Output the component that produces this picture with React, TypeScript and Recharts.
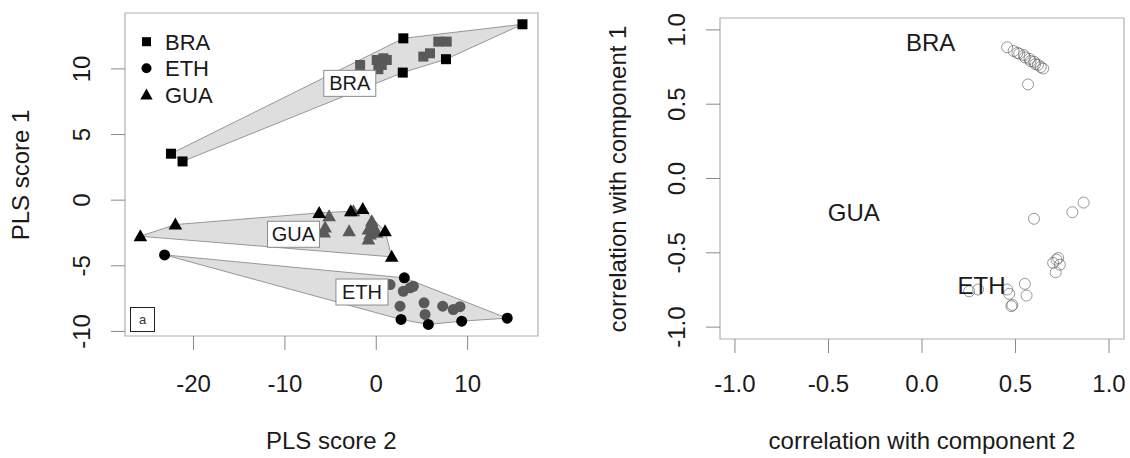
import React from 'react';
import { ScatterChart, Scatter, XAxis, YAxis, ReferenceArea } from 'recharts';

type Pt = { x: number; y: number };
type Tag = { x: number; y: number; label: string };

// panel a: PLS scores. hull = outer points (black), inner = grey points
const braHull: Pt[] = [
  { x: 16.0, y: 13.4 }, { x: 2.96, y: 12.33 }, { x: -22.47, y: 3.54 },
  { x: -21.2, y: 2.95 }, { x: 2.9, y: 9.72 }, { x: 7.63, y: 10.74 },
];
const braInner: Pt[] = [
  { x: -1.77, y: 10.3 }, { x: 0.05, y: 10.68 }, { x: 0.78, y: 10.81 }, { x: 1.15, y: 10.68 },
  { x: 0.6, y: 10.3 }, { x: 0.23, y: 9.98 }, { x: 6.79, y: 12.08 }, { x: 7.71, y: 12.08 },
  { x: 5.15, y: 10.94 }, { x: 5.88, y: 11.19 },
];
const guaHull: Pt[] = [
  { x: -25.82, y: -2.75 }, { x: -21.99, y: -1.86 }, { x: -6.25, y: -0.97 },
  { x: -2.79, y: -0.85 }, { x: -1.48, y: -0.67 }, { x: 0.96, y: -2.37 }, { x: 1.69, y: -4.32 },
];
const guaInner: Pt[] = [
  { x: -5.16, y: -1.23 }, { x: -5.6, y: -2.09 }, { x: -5.71, y: -2.47 }, { x: -2.97, y: -2.37 },
  { x: -2.5, y: -0.85 }, { x: -0.49, y: -1.61 }, { x: -0.32, y: -1.99 }, { x: -0.86, y: -2.24 },
  { x: -0.68, y: -2.62 }, { x: -0.86, y: -3.0 }, { x: 0.05, y: -2.49 },
];
const ethHull: Pt[] = [
  { x: -23.17, y: -4.17 }, { x: 3.07, y: -5.92 }, { x: 14.33, y: -8.99 },
  { x: 9.35, y: -9.22 }, { x: 5.7, y: -9.47 }, { x: 2.71, y: -9.09 },
];
const ethInner: Pt[] = [
  { x: 1.51, y: -6.43 }, { x: 2.96, y: -6.94 }, { x: 3.7, y: -6.68 }, { x: 4.06, y: -6.56 },
  { x: 2.6, y: -8.08 }, { x: 5.23, y: -7.82 }, { x: 5.34, y: -8.71 }, { x: 7.27, y: -8.08 },
  { x: 8.43, y: -8.33 }, { x: 9.16, y: -8.12 },
];
const scoreTags: Tag[] = [
  { x: -2.9, y: 8.9, label: 'BRA' },
  { x: -9.06, y: -2.6, label: 'GUA' },
  { x: -1.57, y: -7.0, label: 'ETH' },
];
const scoreXTicks = [-20, -10, 0, 10];
const scoreYTicks = [-10, -5, 0, 5, 10];
const legendGroups = ['BRA', 'ETH', 'GUA'];

// panel b: correlations with components
const corBRA: Pt[] = [
  { x: 0.455, y: 0.883 }, { x: 0.49, y: 0.858 }, { x: 0.51, y: 0.845 }, { x: 0.52, y: 0.84 },
  { x: 0.545, y: 0.83 }, { x: 0.55, y: 0.815 }, { x: 0.575, y: 0.805 }, { x: 0.58, y: 0.79 },
  { x: 0.6, y: 0.785 }, { x: 0.605, y: 0.77 }, { x: 0.62, y: 0.765 }, { x: 0.635, y: 0.75 },
  { x: 0.648, y: 0.74 }, { x: 0.567, y: 0.633 },
];
const corGUA: Pt[] = [
  { x: 0.599, y: -0.271 }, { x: 0.804, y: -0.227 }, { x: 0.864, y: -0.162 },
  { x: 0.719, y: -0.546 }, { x: 0.701, y: -0.568 }, { x: 0.737, y: -0.58 },
  { x: 0.715, y: -0.631 }, { x: 0.728, y: -0.535 },
];
const corETH: Pt[] = [
  { x: 0.252, y: -0.759 }, { x: 0.3, y: -0.747 }, { x: 0.455, y: -0.747 }, { x: 0.466, y: -0.776 },
  { x: 0.478, y: -0.859 }, { x: 0.483, y: -0.851 }, { x: 0.55, y: -0.709 }, { x: 0.559, y: -0.788 },
];
const corTags: Tag[] = [
  { x: 0.046, y: 0.913, label: 'BRA' },
  { x: -0.365, y: -0.225, label: 'GUA' },
  { x: 0.318, y: -0.719, label: 'ETH' },
];
const corTicks = [-1, -0.5, 0, 0.5, 1];

const font = '"Liberation Sans", Arial, sans-serif';
const ink = '#1a1a1a';
const boxStroke = '#b0b0b0';
const tickStroke = '#8a8a8a';

const square = (fill: string) => (p: any) => (
  <rect x={p.cx - 5} y={p.cy - 5} width={10} height={10} fill={fill} />
);
const disc = (fill: string) => (p: any) => <circle cx={p.cx} cy={p.cy} r={5.5} fill={fill} />;
const tri = (fill: string) => (p: any) => (
  <polygon
    points={`${p.cx},${p.cy - 7} ${p.cx - 6.8},${p.cy + 5} ${p.cx + 6.8},${p.cy + 5}`}
    fill={fill}
  />
);
const ring = (p: any) => (
  <circle cx={p.cx} cy={p.cy} r={5.5} fill="none" stroke="#555" strokeOpacity={0.6} strokeWidth={1} />
);
const nothing = () => <g />;
const hullLine = (lp: any) => (
  <polygon
    points={lp.points.map((q: any) => `${q.x},${q.y}`).join(' ')}
    fill="#dedede"
    stroke="#8c8c8c"
    strokeWidth={0.9}
  />
);
const boxedTag = (p: any) => (
  <g>
    <rect x={p.cx - 26} y={p.cy - 13} width={52} height={26} fill="#fff" stroke="#8c8c8c" strokeWidth={1} />
    <text x={p.cx} y={p.cy + 7} textAnchor="middle" fontSize={20} fontFamily={font} fill={ink}>
      {p.payload.label}
    </text>
  </g>
);
const plainTag = (p: any) => (
  <text x={p.cx} y={p.cy + 8.6} textAnchor="middle" fontSize={24} fontFamily={font} fill={ink}>
    {p.payload.label}
  </text>
);

const xTick = (dy: number, fmt: (v: number) => string) => (p: any) => (
  <text x={p.x} y={p.y + dy} textAnchor="middle" fontSize={24} fontFamily={font} fill={ink}>
    {fmt(p.payload.value)}
  </text>
);
const yTick = (fmt: (v: number) => string) => (p: any) => {
  const bx = p.x - 19;
  return (
    <text
      x={bx}
      y={p.y}
      transform={`rotate(-90 ${bx} ${p.y})`}
      textAnchor="middle"
      fontSize={24}
      fontFamily={font}
      fill={ink}
    >
      {fmt(p.payload.value)}
    </text>
  );
};

const SX: [number, number] = [-27.5, 17.7];
const SY: [number, number] = [-10.35, 14.26];
const CD: [number, number] = [-1.08, 1.08];

function ScoresPanel() {
  return (
    <ScatterChart width={560} height={458} margin={{ top: 13, right: 22, bottom: 0, left: 0 }}>
      <XAxis
        type="number"
        dataKey="x"
        domain={SX}
        ticks={scoreXTicks}
        allowDataOverflow
        height={122}
        axisLine={false}
        tickSize={14}
        tickLine={{ stroke: tickStroke }}
        tick={xTick(40, (v) => String(v))}
      />
      <YAxis
        type="number"
        dataKey="y"
        domain={SY}
        ticks={scoreYTicks}
        allowDataOverflow
        width={125}
        axisLine={false}
        tickSize={14}
        tickLine={{ stroke: tickStroke }}
        tick={yTick((v) => String(v))}
      />
      <ReferenceArea x1={SX[0]} x2={SX[1]} y1={SY[0]} y2={SY[1]} fill="none" stroke={boxStroke} strokeWidth={1.2} />
      <Scatter data={braHull} shape={nothing} line={hullLine} isAnimationActive={false} />
      <Scatter data={guaHull} shape={nothing} line={hullLine} isAnimationActive={false} />
      <Scatter data={ethHull} shape={nothing} line={hullLine} isAnimationActive={false} />
      <Scatter data={braInner} shape={square('#595959')} isAnimationActive={false} />
      <Scatter data={guaInner} shape={tri('#595959')} isAnimationActive={false} />
      <Scatter data={ethInner} shape={disc('#595959')} isAnimationActive={false} />
      <Scatter data={braHull} shape={square('#000')} isAnimationActive={false} />
      <Scatter data={guaHull} shape={tri('#000')} isAnimationActive={false} />
      <Scatter data={ethHull} shape={disc('#000')} isAnimationActive={false} />
      <Scatter data={scoreTags} shape={boxedTag} isAnimationActive={false} />
    </ScatterChart>
  );
}

function CorrelationPanel() {
  return (
    <ScatterChart width={565} height={458} margin={{ top: 18, right: 6, bottom: 0, left: 0 }}>
      <XAxis
        type="number"
        dataKey="x"
        domain={CD}
        ticks={corTicks}
        allowDataOverflow
        height={119}
        axisLine={false}
        tickSize={14}
        tickLine={{ stroke: tickStroke }}
        tick={xTick(37, (v) => v.toFixed(1))}
      />
      <YAxis
        type="number"
        dataKey="y"
        domain={CD}
        ticks={corTicks}
        allowDataOverflow
        width={155}
        axisLine={false}
        tickSize={14}
        tickLine={{ stroke: tickStroke }}
        tick={yTick((v) => v.toFixed(1))}
      />
      <ReferenceArea x1={CD[0]} x2={CD[1]} y1={CD[0]} y2={CD[1]} fill="none" stroke={boxStroke} strokeWidth={1.2} />
      <Scatter data={corBRA} shape={ring} isAnimationActive={false} />
      <Scatter data={corGUA} shape={ring} isAnimationActive={false} />
      <Scatter data={corETH} shape={ring} isAnimationActive={false} />
      <Scatter data={corTags} shape={plainTag} isAnimationActive={false} />
    </ScatterChart>
  );
}

function Overlay() {
  const markers = [
    (x: number, y: number) => <rect x={x - 4.5} y={y - 4.5} width={9} height={9} fill="#000" />,
    (x: number, y: number) => <circle cx={x} cy={y} r={5} fill="#000" />,
    (x: number, y: number) => (
      <polygon points={`${x},${y - 6.5} ${x - 6.2},${y + 4.5} ${x + 6.2},${y + 4.5}`} fill="#000" />
    ),
  ];
  return (
    <svg
      width={1130}
      height={458}
      style={{ position: 'absolute', left: 0, top: 0, pointerEvents: 'none' }}
      fontFamily={font}
    >
      {legendGroups.map((g, i) => (
        <g key={g}>
          {markers[i](146.5, 41.7 + i * 26.6)}
          <text x={165} y={49.5 + i * 26.6} fontSize={22} fill={ink}>
            {g}
          </text>
        </g>
      ))}
      <rect x={130.5} y={307.5} width={24} height={24} fill="#fff" stroke="#222" strokeWidth={1} />
      <text x={142.5} y={324} textAnchor="middle" fontSize={13} fill="#333">
        a
      </text>
      <text x={331.3} y={449} textAnchor="middle" fontSize={24} fill={ink}>
        PLS score 2
      </text>
      <text x={29} y={175} transform="rotate(-90 29 175)" textAnchor="middle" fontSize={24} fill={ink}>
        PLS score 1
      </text>
      <text x={922} y={449} textAnchor="middle" fontSize={24} fill={ink}>
        correlation with component 2
      </text>
      <text x={626} y={179} transform="rotate(-90 626 179)" textAnchor="middle" fontSize={24} fill={ink}>
        correlation with component 1
      </text>
    </svg>
  );
}

export default function App() {
  return (
    <div style={{ position: 'absolute', left: 0, top: 0, width: 1130, height: 458, background: '#fff' }}>
      <div style={{ position: 'absolute', left: 0, top: 0 }}>
        <ScoresPanel />
      </div>
      <div style={{ position: 'absolute', left: 565, top: 0 }}>
        <CorrelationPanel />
      </div>
      <Overlay />
    </div>
  );
}
